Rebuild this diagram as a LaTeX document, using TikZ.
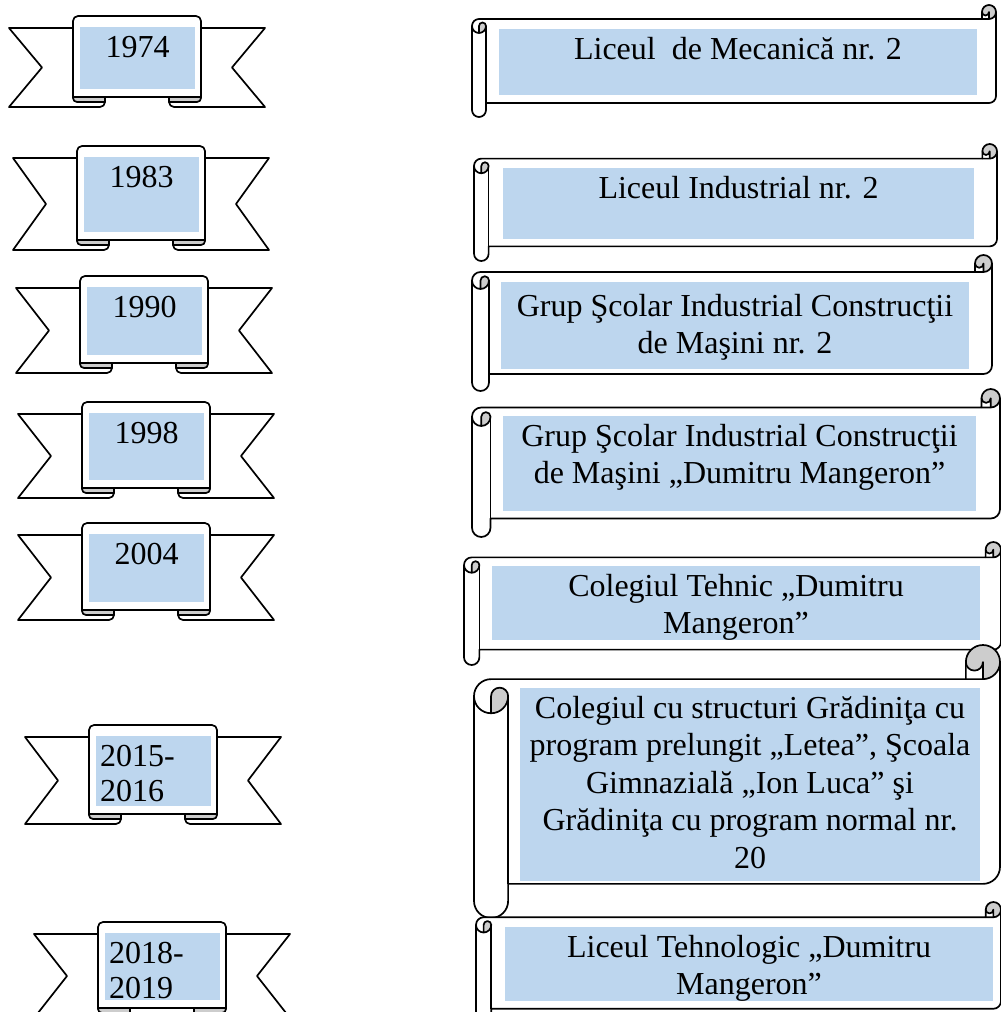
\documentclass[tikz,border=0pt]{standalone}
\usepackage{fontspec}
\setmainfont{Liberation Serif}
\definecolor{boxblue}{RGB}{189,214,238}
\definecolor{curlgray}{RGB}{205,205,205}
\tikzset{
  outl/.style={draw=black, line width=1.7pt, line join=round},
  stxt/.style={inner sep=0pt, font=\fontsize{32}{37.5}\selectfont, align=center, anchor=north},
  ytxt/.style={inner sep=0pt, font=\fontsize{32}{35}\selectfont, align=center, anchor=north},
  yltxt/.style={inner sep=0pt, font=\fontsize{32}{35}\selectfont, align=left, anchor=north west}
}
\newcommand{\fl}{\rule{0pt}{25pt}}
% ribbon: #1 left x, #2 panel top, #3 panel bottom
\newcommand{\ribbonshape}[3]{%
  \pgfmathsetmacro\rbTT{#2+12}\pgfmathsetmacro\rbTB{#3+10}\pgfmathsetmacro\rbM{(\rbTT+\rbTB)/2}%
  \begin{scope}[shift={(#1,0)}]
    \filldraw[outl,fill=white] (0,\rbTT) -- (96,\rbTT) -- (96,\rbTB-5) arc[start angle=0,delta angle=90,radius=5] -- (0,\rbTB) -- (33,\rbM) -- cycle;
    \filldraw[outl,fill=white] (256,\rbTT) -- (160,\rbTT) -- (160,\rbTB-5) arc[start angle=180,delta angle=-90,radius=5] -- (256,\rbTB) -- (223,\rbM) -- cycle;
    \filldraw[outl,fill=curlgray] (64,#3-6) -- (64,#3+1) arc[start angle=180,delta angle=-90,radius=4] -- (96,#3+5) -- (96,#3-6) -- cycle;
    \filldraw[outl,fill=curlgray] (192,#3-6) -- (192,#3+1) arc[start angle=0,delta angle=90,radius=4] -- (160,#3+5) -- (160,#3-6) -- cycle;
    \filldraw[outl,fill=white] (64,#3) -- (64,#2+5) arc[start angle=180,delta angle=90,radius=5] -- (187,#2) arc[start angle=270,delta angle=90,radius=5] -- (192,#3) -- cycle;
    \fill[boxblue] (71,#2+11) rectangle (186,#3-8);
  \end{scope}}
% horizontal scroll: #1 l, #2 t, #3 r, #4 b
\newcommand{\scrollshape}[4]{%
  \pgfmathsetmacro\scW{#3-#1}\pgfmathsetmacro\scH{#4-#2}%
  \pgfmathsetmacro\scC{\scH/8}\pgfmathsetmacro\scHh{\scC/2}\pgfmathsetmacro\scQ{\scC/4}%
  \begin{scope}[shift={(#1,#2)}]
    \def\scOutline{(0,\scC+\scHh) arc[start angle=180,delta angle=90,radius=\scHh] -- (\scW-\scC,\scC) -- (\scW-\scC,\scHh) arc[start angle=180,delta angle=180,radius=\scHh] -- (\scW,\scH-\scC-\scHh) arc[start angle=0,delta angle=90,radius=\scHh] -- (\scC,\scH-\scC) -- (\scC,\scH-\scHh) arc[start angle=0,delta angle=180,radius=\scHh] -- cycle}
    \fill[white] \scOutline;
    \fill[curlgray] (\scHh,2*\scC) arc[start angle=90,delta angle=-90,radius=\scHh] arc[start angle=0,delta angle=-180,radius=\scQ] -- cycle;
    \fill[curlgray] (\scW-\scHh,\scC) arc[start angle=90,delta angle=-270,radius=\scHh] arc[start angle=180,delta angle=-180,radius=\scQ] -- cycle;
    \draw[outl] \scOutline;
    \draw[outl] (\scW-\scC,\scC) -- (\scW-\scHh,\scC) arc[start angle=90,delta angle=-90,radius=\scHh];
    \draw[outl] (\scW-\scHh,\scC) -- (\scW-\scHh,\scHh) arc[start angle=0,delta angle=180,radius=\scQ];
    \draw[outl] (\scHh,2*\scC) -- (\scHh,\scC+\scHh) arc[start angle=180,delta angle=180,radius=\scQ] arc[start angle=0,delta angle=180,radius=\scHh];
    \draw[outl] (\scC,\scC+\scHh) -- (\scC,\scH-\scC);
  \end{scope}}
\begin{document}
\begin{tikzpicture}[x=1pt,y=1pt,yscale=-1]
\useasboundingbox (0,0) rectangle (1001,1012);
\clip (0,0) rectangle (1001,1012);
\fill[white] (0,0) rectangle (1001,1012);

% ---- ribbons (years) ----
\ribbonshape{9}{16}{97}
\ribbonshape{13}{146}{240}
\ribbonshape{16}{276}{363}
\ribbonshape{18}{402}{488}
\ribbonshape{18}{523}{610}
\ribbonshape{25}{725}{814}
\ribbonshape{34}{922}{1008}

\node[ytxt] (r1) at (137.5,32) {\fl 1974};
\node[ytxt] (r2) at (141.5,162) {\fl 1983};
\node[ytxt] (r3) at (144.5,292) {\fl 1990};
\node[ytxt] (r4) at (146.5,418) {\fl 1998};
\node[ytxt] (r5) at (146.5,539) {\fl 2004};
\node[yltxt] (r6) at (100,741) {\fl 2015-\\2016};
\node[yltxt] (r7) at (109,938) {\fl 2018-\\2019};

% ---- scrolls (names) ----
\scrollshape{472}{5}{996}{117}
\fill[boxblue] (499,29) rectangle (977,95);
\node[stxt] (s1) at (738,34) {\fl Liceul\ \ de Mecanică nr. 2};

\scrollshape{474}{144}{997}{261}
\fill[boxblue] (503,168) rectangle (974,239);
\node[stxt] (s2) at (738.5,173) {\fl Liceul Industrial nr. 2};

\scrollshape{472}{255}{992}{391}
\fill[boxblue] (501,282) rectangle (969,369);
\node[stxt] (s3) at (735,291) {\fl Grup Şcolar Industrial Construcţii\\de Maşini nr. 2};

\scrollshape{472}{389}{1000}{537}
\fill[boxblue] (503,416) rectangle (976,511);
\node[stxt] (s4) at (739.5,421) {\fl Grup Şcolar Industrial Construcţii\\de Maşini „Dumitru Mangeron”};

\scrollshape{464}{542}{1001}{665}
\fill[boxblue] (492,566) rectangle (980,640);
\node[stxt] (s5) at (736,571) {\fl Colegiul Tehnic „Dumitru\\Mangeron”};

\scrollshape{474}{645}{1000}{918}
\fill[boxblue] (520,688) rectangle (980,881);
\node[stxt] (s6) at (750,693) {\fl Colegiul cu structuri Grădiniţa cu\\program prelungit „Letea”, Şcoala\\Gimnazială „Ion Luca” şi\\Grădiniţa cu program normal nr.\\20};

\scrollshape{476}{902}{1001}{1024}
\fill[boxblue] (505,927) rectangle (993,1001);
\node[stxt] (s7) at (749,932) {\fl Liceul Tehnologic „Dumitru\\Mangeron”};
\end{tikzpicture}
\end{document}
